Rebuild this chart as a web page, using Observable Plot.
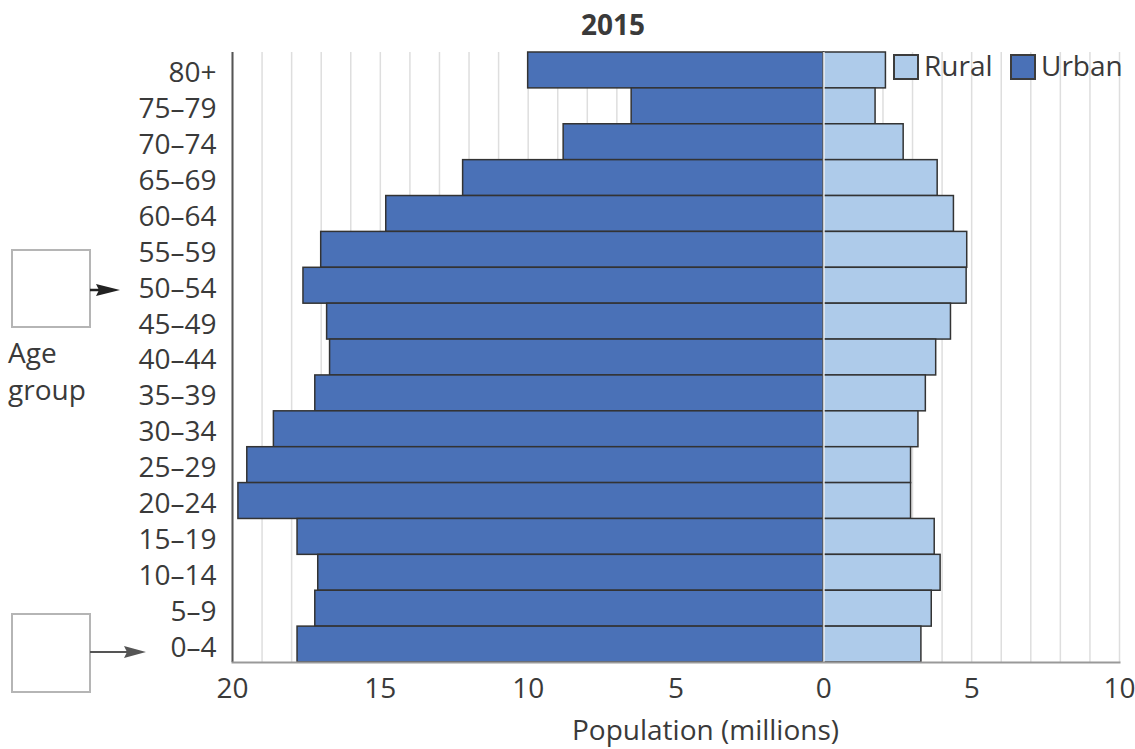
<!DOCTYPE html>
<html>
<head>
<meta charset="utf-8">
<script src="https://cdn.jsdelivr.net/npm/d3@7"></script>
<script src="https://cdn.jsdelivr.net/npm/@observablehq/plot@0.6"></script>
<style>
  body { margin: 0; background: #fff; }
  #wrap { position: relative; width: 1135px; height: 749px; font-family: "Open Sans", sans-serif; color: #3a3a3a; }
  #wrap svg.plot { position: absolute; left: 0; top: 0; }
  .ov { position: absolute; white-space: nowrap; }
  .sw { position: absolute; width: 22px; height: 22px; border: 2px solid #3c3c3c; }
</style>
</head>
<body>
<div id="wrap"></div>
<script>
const ageGroups = ["80+","75–79","70–74","65–69","60–64","55–59","50–54","45–49","40–44","35–39","30–34","25–29","20–24","15–19","10–14","5–9","0–4"];
const urbanValues = [10.0, 6.5, 8.8, 12.2, 14.8, 17.0, 17.6, 16.8, 16.7, 17.2, 18.6, 19.5, 19.8, 17.8, 17.1, 17.2, 17.8];
const ruralValues = [2.1, 1.75, 2.7, 3.85, 4.4, 4.85, 4.83, 4.3, 3.8, 3.45, 3.2, 2.95, 2.95, 3.75, 3.95, 3.65, 3.3];
const xTicks = [-20, -15, -10, -5, 0, 5, 10];
const gridValues = d3.range(-20, 11, 1);

const rows = ageGroups.map((age, i) => ({age, urban: urbanValues[i], rural: ruralValues[i]}));

const URBAN = "#4a71b7";
const RURAL = "#aecbea";

const chart = Plot.plot({
  width: 1135,
  height: 749,
  marginTop: 52,
  marginBottom: 87,
  marginLeft: 232,
  marginRight: 16,
  style: {fontFamily: "Open Sans, sans-serif", color: "#3a3a3a", background: "transparent"},
  x: {domain: [-20, 10]},
  y: {domain: ageGroups, padding: 0, round: false},
  marks: [
    Plot.ruleX(gridValues, {stroke: "#dedede", strokeWidth: 1.5}),
    Plot.barX(rows, {y: "age", x1: 0, x2: d => -d.urban, fill: URBAN, stroke: "#333", strokeWidth: 1.5}),
    Plot.barX(rows, {y: "age", x1: 0, x2: "rural", fill: RURAL, stroke: "#333", strokeWidth: 1.5}),
    Plot.ruleX([0], {stroke: "#fff", strokeWidth: 2, strokeOpacity: 0.75}),
    Plot.ruleX([-20], {stroke: "#555", strokeWidth: 2}),
    Plot.frame({anchor: "bottom", stroke: "#999", strokeWidth: 2}),
    Plot.axisY({tickSize: 0, tickPadding: 16, fontSize: 28, label: null, dy: 3}),
    Plot.axisX({ticks: xTicks, tickFormat: d => Math.abs(d), tickSize: 0, tickPadding: 16, fontSize: 28, label: null})
  ]
});
chart.classList.add("plot");
const wrap = document.getElementById("wrap");
wrap.appendChild(chart);

function addDiv(html, css, cls = "ov") {
  const d = document.createElement("div");
  d.className = cls;
  d.innerHTML = html;
  Object.assign(d.style, css);
  wrap.appendChild(d);
  return d;
}

// Title
addDiv("2015", {left: "0px", width: "1226px", textAlign: "center", top: "4px", fontSize: "28px", fontWeight: "700", lineHeight: "40px"});

// Legend
addDiv("", {left: "893px", top: "54px", background: RURAL}, "sw");
addDiv("Rural", {left: "924px", top: "45px", fontSize: "28px", lineHeight: "40px"});
addDiv("", {left: "1010px", top: "54px", background: URBAN}, "sw");
addDiv("Urban", {left: "1041px", top: "45px", fontSize: "28px", lineHeight: "40px"});

// Axis title
addDiv("Population (millions)", {left: "572px", top: "709px", fontSize: "28px", lineHeight: "40px"});

// Age group annotation
addDiv("Age<br>group", {left: "8px", top: "334px", fontSize: "28px", lineHeight: "37px"});

// Annotation boxes and arrows
const ns = "http://www.w3.org/2000/svg";
const ann = document.createElementNS(ns, "svg");
ann.setAttribute("width", 160); ann.setAttribute("height", 749);
ann.style.position = "absolute"; ann.style.left = "0px"; ann.style.top = "0px";
ann.innerHTML = `
  <rect x="12" y="250" width="78" height="77" fill="#fff" stroke="#b5b5b5" stroke-width="2"/>
  <line x1="90" y1="290" x2="100" y2="290" stroke="#222" stroke-width="2.5"/>
  <path d="M96,284 L120,290 L96,296 L99,290 Z" fill="#222"/>
  <rect x="12" y="614" width="78" height="78" fill="#fff" stroke="#b5b5b5" stroke-width="2"/>
  <line x1="90" y1="652" x2="128" y2="652" stroke="#555" stroke-width="2"/>
  <path d="M124,646 L146,652 L124,658 L127,652 Z" fill="#555"/>
`;
wrap.appendChild(ann);
</script>
</body>
</html>
